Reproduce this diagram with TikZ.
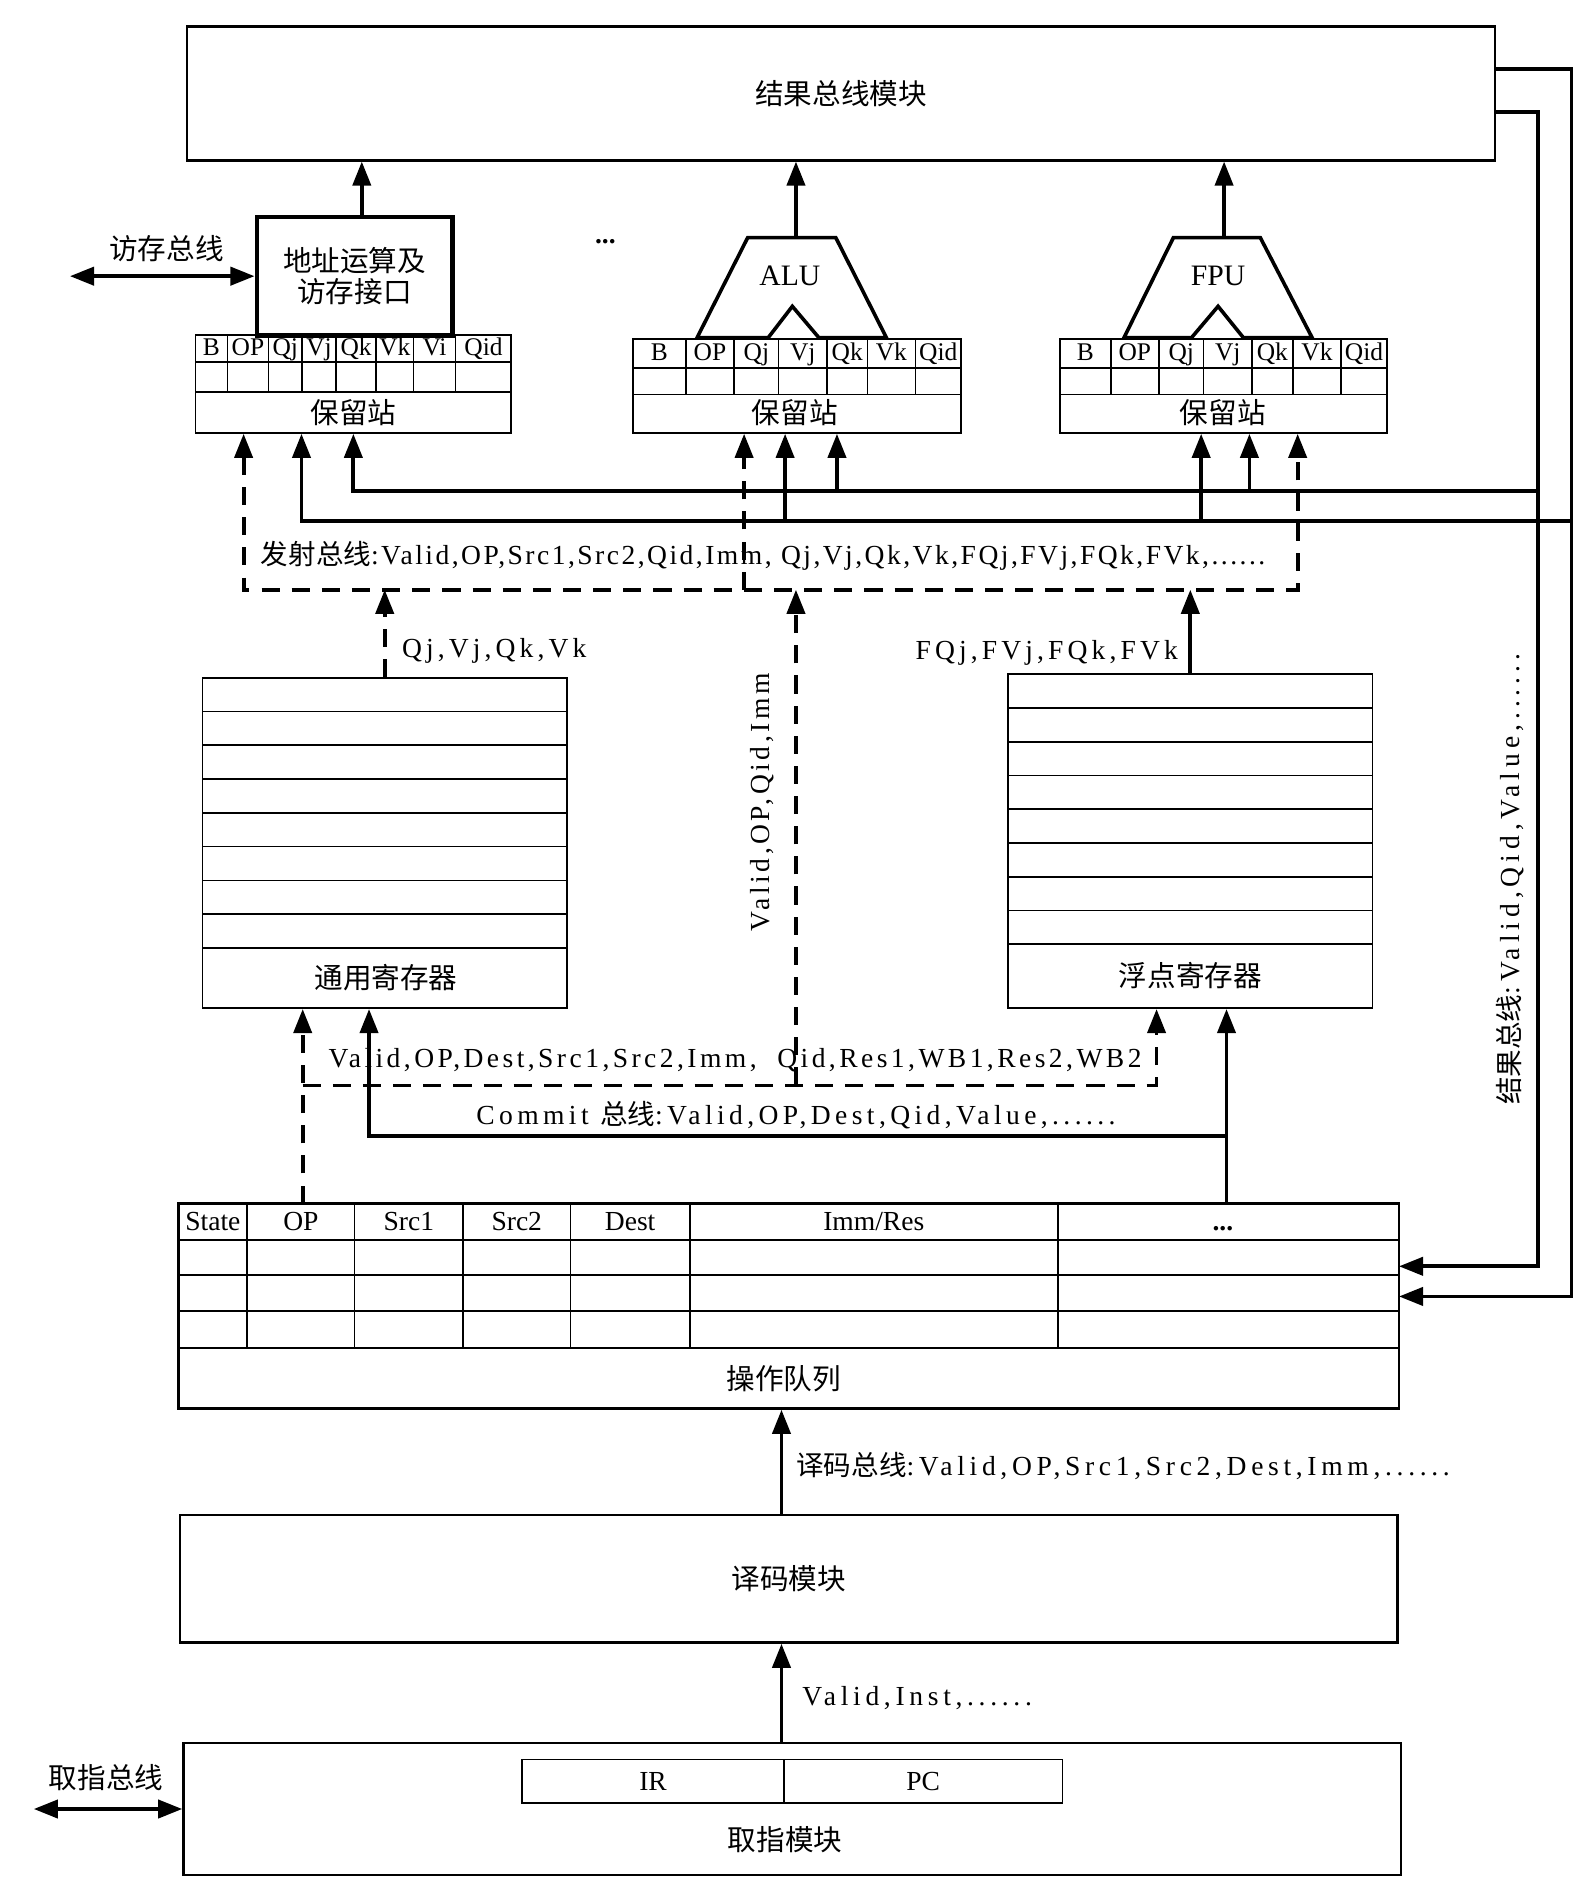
\documentclass[tikz,border=0pt]{standalone}
\usepackage{fontspec}
\setmainfont{Liberation Serif}
\newfontfamily\cjk{Noto Sans CJK SC}
\usetikzlibrary{arrows.meta}
\newcommand{\spaced}[2]{{\addfontfeature{LetterSpace=#1}#2}}

\begin{document}
\begin{tikzpicture}[x=0.02cm, y=-0.02cm,
	txt/.style={inner sep=0pt, font=\fontsize{13}{15}\selectfont},
	hdr/.style={inner sep=0pt, anchor=base, font=\fontsize{12}{14}\selectfont},
	zh/.style={inner sep=0pt, align=center, font=\cjk\fontsize{13.5}{14.5}\selectfont},
	box/.style={draw, line width=1.1pt, inner sep=0pt},
	tab/.style={draw, line width=0.8pt, inner sep=0pt},
	grid/.style={line width=0.8pt},
	line/.style={line width=1.8pt},
	arr/.style={line, -{Triangle[length=0.4cm,width=0.3cm]}},
	dline/.style={line, dash pattern=on 0.3cm off 0.2cm},
	darr/.style={dline, -{Triangle[length=0.4cm,width=0.3cm]}},
	ddbl/.style={dline, {Triangle[length=0.4cm,width=0.3cm]}-{Triangle[length=0.4cm,width=0.3cm]}},
	dbl/.style={line, {Triangle[length=0.4cm,width=0.3cm]}-{Triangle[length=0.4cm,width=0.3cm]}}]
	\useasboundingbox (0,0) rectangle (1320,1568);

	% Bus de resultados y unidades
		\node[box, zh, minimum width=21.7cm, minimum height=2.22cm] (res) at (697.5,77.5) {结果总线模块};
		\node[zh, draw, line width=2.2pt, minimum width=3.24cm, minimum height=1.96cm] (mem) at (294,229) {地址运算及\\访存接口};
		\draw[line width=1.7pt] (578,280) -- (620,197) -- (693,197) -- (735,280) -- (679,280) -- (657,254) -- (637,280) -- cycle;
		\draw[line width=1.7pt] (932,280) -- (973,197) -- (1045,197) -- (1088,280) -- (1031,280) -- (1010,254) -- (988,280) -- cycle;
		\node[txt, font=\fontsize{14}{16}\selectfont] (alu) at (655,229) {ALU};
		\node[txt, font=\fontsize{14}{16}\selectfont] (fpu) at (1010,229) {FPU};
		\node[txt] (dots) at (502,200) {\textbf{...}};
		\coordinate (alutop) at (660,197);
		\coordinate (fputop) at (1015,197);
		\draw[arr] ([xshift=0.12cm]mem.north) -- ([xshift=0.12cm]mem.north |- res.south);
		\draw[arr] (alutop) -- (alutop |- res.south);
		\draw[arr] (fputop) -- (fputop |- res.south);
		\node[zh] (membus) at (138,206) {访存总线};
		\coordinate (mb) at (58,229);
		\draw[dbl] (mb) -- (mem.west);

	% Estaciones de reserva
		\node[tab, minimum width=5.24cm, minimum height=1.62cm] (rsm) at (293,318.5) {};
		\foreach \x in {188.6,222.6,250.4,278.6,312,342.8,377.7} \draw[grid] (\x,278) -- (\x,325);
		\draw[grid] (162,300) -- (424,300) (162,325) -- (424,325);
		\foreach \x/\t [count=\i] in {175.3/B,205.6/OP,236.5/Qj,264.5/Vj,295.3/Qk,327.4/Vk,360.3/Vi,400.9/Qid}
			\node[hdr] (mh\i) at (\x,295) {\t};
		\node[zh] (rsmlbl) at (293,342) {保留站};

		\node[tab, minimum width=5.44cm, minimum height=1.56cm] (rsa) at (661,320) {};
		\foreach \x in {568.6,608.8,645.6,685.8,719.2,759} \draw[grid] (\x,281) -- (\x,327);
		\draw[grid] (525,305) -- (797,305) (525,327) -- (797,327);
		\foreach \x/\t [count=\i] in {546.8/B,588.7/OP,627.2/Qj,665.7/Vj,702.5/Qk,739.1/Vk,778/Qid}
			\node[hdr] (ah\i) at (\x,299) {\t};
		\node[zh] (rsalbl) at (659,342) {保留站};

		\node[tab, minimum width=5.42cm, minimum height=1.56cm] (rsf) at (1014.5,320) {};
		\foreach \x in {921,961,998,1038,1072,1112} \draw[grid] (\x,281) -- (\x,327);
		\draw[grid] (879,305) -- (1150,305) (879,327) -- (1150,327);
		\foreach \x/\t [count=\i] in {900/B,941/OP,979.5/Qj,1018/Vj,1055/Qk,1092/Vk,1131/Qid}
			\node[hdr] (fh\i) at (\x,299) {\t};
		\node[zh] (rsflbl) at (1014,342) {保留站};

	% Buses de resultados hacia las estaciones
		\coordinate (ro) at (1303,57);
		\coordinate (ri) at (1275,93);
		\coordinate (q1) at (1160,1050);
		\coordinate (q2) at (1160,1075);
		\draw[arr] (res.east |- ro) -- (ro) -- (ro |- q2) -- (q2);
		\draw[arr] (res.east |- ri) -- (ri) -- (ri |- q1) -- (q1);
		\coordinate (bu) at (293,407);
		\coordinate (bua) at (694,407);
		\coordinate (buf) at (1036,407);
		\coordinate (bl) at (250,432);
		\coordinate (bla) at (651,432);
		\coordinate (blf) at (996,432);
		\draw[arr] (ri |- bu) -- (bu) -- (bu |- rsm.south);
		\draw[arr] (ro |- bl) -- (bl) -- (bl |- rsm.south);
		\draw[arr] (bua) -- (bua |- rsa.south);
		\draw[arr] (buf) -- (buf |- rsf.south);
		\draw[arr] (bla) -- (bla |- rsa.south);
		\draw[arr] (blf) -- (blf |- rsf.south);
		\node[txt, rotate=90] (rbus) at (1252,729) {{\cjk 结果总线}\spaced{18}{:Valid,Qid,Value,......}};

	% Bus de emisión
		\coordinate (ibl) at (202,489);
		\coordinate (iba) at (617,489);
		\coordinate (ibr) at (1076,489);
		\draw[ddbl] (ibl |- rsm.south) -- (ibl) -- (ibr) -- (ibr |- rsf.south);
		\draw[darr] (iba) -- (iba |- rsa.south);
		\node[txt, anchor=west] (ibus) at (216,461) {{\cjk 发射总线}\spaced{9}{:Valid,OP,Src1,Src2,Qid,Imm, Qj,Vj,Qk,Vk,FQj,FVj,FQk,FVk,......}};

	% Registros
		\node[tab, minimum width=6.04cm, minimum height=5.48cm] (gpr) at (319,699) {};
		\foreach \y in {590,618,...,786} \draw[grid] (168,\y) -- (470,\y);
		\node[zh] (gprlbl) at (320,811) {通用寄存器};
		\node[tab, minimum width=6.04cm, minimum height=5.54cm] (fpr) at (987,697.5) {};
		\foreach \y in {587,615,...,783} \draw[grid] (836,\y) -- (1138,\y);
		\node[zh] (fprlbl) at (987,809) {浮点寄存器};
		\draw[darr] (gpr.north) -- (gpr.north |- ibl);
		\draw[arr] (fpr.north) -- (fpr.north |- ibl);
		\node[txt, anchor=west] (qlbl) at (333,540) {\spaced{15}{Qj,Vj,Qk,Vk}};
		\node[txt, anchor=east] (fqlbl) at (977,541) {\spaced{15}{FQj,FVj,FQk,FVk}};

	% Commit
		\coordinate (cdl) at (251,900);
		\coordinate (cdm) at (660,900);
		\coordinate (cdr) at (959,900);
		\coordinate (csl) at (306,942);
		\coordinate (csr) at (1017,942);
		\draw[darr] (cdm) -- (cdm |- ibl);
		\node[txt, rotate=90] (midlbl) at (632,665) {\spaced{13}{Valid,OP,Qid,Imm}};
		\draw[darr] (cdl) -- (cdr) -- (cdr |- fpr.south);
		\draw[darr] (cdl |- 0,998) -- (cdl |- gpr.south);
		\draw[arr] (csr |- 0,998) -- (csr |- fpr.south);
		\draw[arr] (csr) -- (csl) -- (csl |- gpr.south);
		\node[txt] (wblbl) at (609.5,879) {\spaced{12.5}{Valid,OP,Dest,Src1,Src2,Imm,~~Qid,Res1,WB1,Res2,WB2}};
		\node[txt] (cmlbl) at (660,925) {\spaced{16}{Commit }{\cjk 总线}\spaced{16}{:Valid,OP,Dest,Qid,Value,......}};

	% Cola de operaciones
		\node[box, minimum width=20.24cm, minimum height=3.4cm] (opq) at (654,1083) {};
		\foreach \y in {1028,1057,1087,1118} \draw[grid] (148,\y) -- (1160,\y);
		\foreach \x in {205,294,384,473,572,877} \draw[grid] (\x,998) -- (\x,1118);
		\foreach \x/\t [count=\i] in {176.5/State,249.5/OP,339/Src1,428.5/Src2,522.5/Dest,724.5/{Imm/Res},1014/\textbf{...}}
			\node[hdr, font=\fontsize{13}{15}\selectfont] (qh\i) at (\x,1020) {\t};
		\node[zh] (opqlbl) at (650,1143) {操作队列};

	% Decodificación y búsqueda
		\coordinate (ax) at (648,1200);
		\node[box, zh, minimum width=20.2cm, minimum height=2.12cm] (dec) at (654,1309) {译码模块};
		\draw[arr] (ax |- dec.north) -- (ax |- opq.south);
		\node[txt, anchor=west] (declbl) at (660,1216) {{\cjk 译码总线}\spaced{17}{:Valid,OP,Src1,Src2,Dest,Imm,......}};
		\node[box, minimum width=20.2cm, minimum height=2.2cm] (fet) at (657,1500) {};
		\node[tab, txt, minimum width=4.34cm, minimum height=0.72cm] (ir) at (541.5,1477) {IR};
		\node[tab, txt, minimum width=4.62cm, minimum height=0.72cm] (pc) at (765.5,1477) {PC};
		\node[zh] (fetlbl) at (651,1525) {取指模块};
		\draw[arr] (ax |- fet.north) -- (ax |- dec.south);
		\node[txt, anchor=west] (instlbl) at (665,1408) {\spaced{17}{Valid,Inst,......}};
		\node[zh] (fetbus) at (88,1474) {取指总线};
		\coordinate (fb) at (28,1500);
		\draw[dbl] (fb) -- (fet.west);
\end{tikzpicture}
\end{document}
